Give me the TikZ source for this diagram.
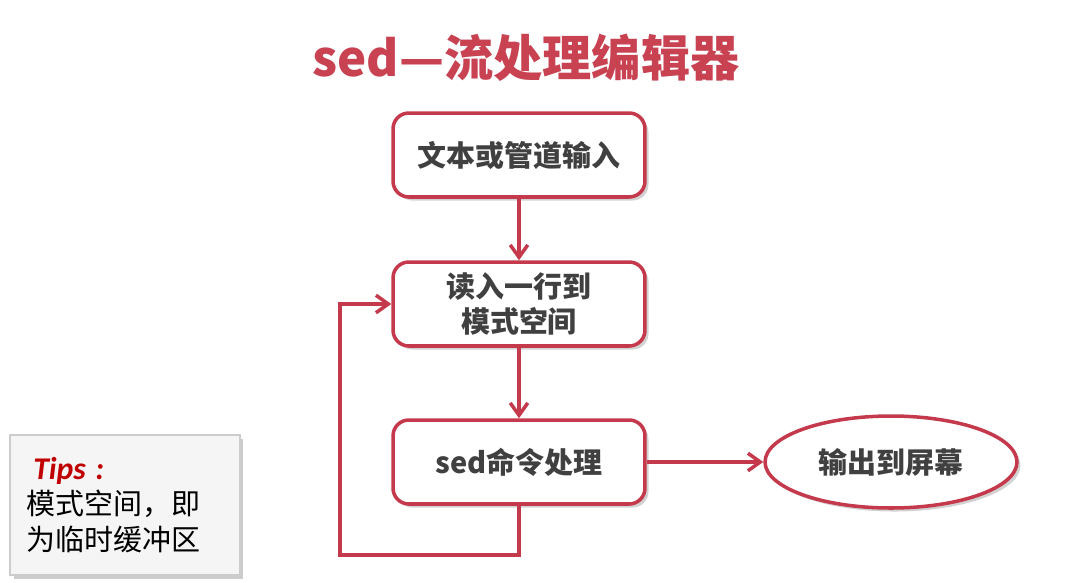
\documentclass[tikz,border=0pt]{standalone}
\usepackage{fontspec}
\setmainfont{Noto Sans CJK SC}
\newfontfamily\tipsfont{Carlito}
\usetikzlibrary{shapes.geometric,shadows,arrows.meta}
\definecolor{sedred}{RGB}{196,58,76}
\definecolor{titlered}{RGB}{200,66,82}
\definecolor{tipsred}{RGB}{192,0,0}
\definecolor{boxtext}{RGB}{64,64,64}

\tikzset{
	stepbox/.style={draw=sedred, line width=2pt, rounded corners=9pt, fill=white,
		minimum width=5.04cm, minimum height=1.68cm, align=center, text=boxtext,
		font=\bfseries\fontsize{16.5}{19.5}\selectfont,
		drop shadow={opacity=0.35, shadow xshift=2pt, shadow yshift=-2pt}},
	outbox/.style={stepbox, ellipse, minimum width=5.04cm, minimum height=1.84cm},
	flow/.style={draw=sedred, line width=2pt, -{Straight Barb[length=7pt,width=10pt]}},
	tipsbox/.style={draw=gray!40, fill=gray!8, line width=1pt, minimum width=4.6cm,
		minimum height=2.8cm, text width=3.95cm, align=left,
		font=\fontsize{16.5}{20}\selectfont,
		drop shadow={opacity=0.4, shadow xshift=2pt, shadow yshift=-2pt}}
}

\begin{document}
\begin{tikzpicture}[x=0.02cm, y=-0.02cm]
	%\draw[help lines] (0,0) grid (1067,582);
	\fill[white] (0,0) rectangle (1067,582);
	\useasboundingbox (0,0) rectangle (1067,582);
	
	\node[text=titlered, font=\bfseries\fontsize{28}{31}\selectfont] (title) at (526,58) {sed—流处理编辑器};
	
	\node[stepbox] (input) at (519,155) {文本或管道输入};
	\node[stepbox] (read) at (519,304) {读入一行到\\模式空间};
	\node[stepbox] (cmd) at (519,462) {sed命令处理};
	\node[outbox] (out) at (891,462) {输出到屏幕};
	\coordinate (back) at (340,555);
	
	\draw[flow] (input) -- (read);
	\draw[flow] (read) -- (cmd);
	\draw[flow] (cmd) -- (out);
	\draw[flow] (cmd.south) |- (back) |- (read.west);
	
	\node[tipsbox] (tips) at (125,505) {\hspace*{4pt}{\tipsfont\color{tipsred}\bfseries\itshape\fontsize{18}{20}\selectfont Tips :}\\模式空间，即\\为临时缓冲区};
\end{tikzpicture}
\end{document}
